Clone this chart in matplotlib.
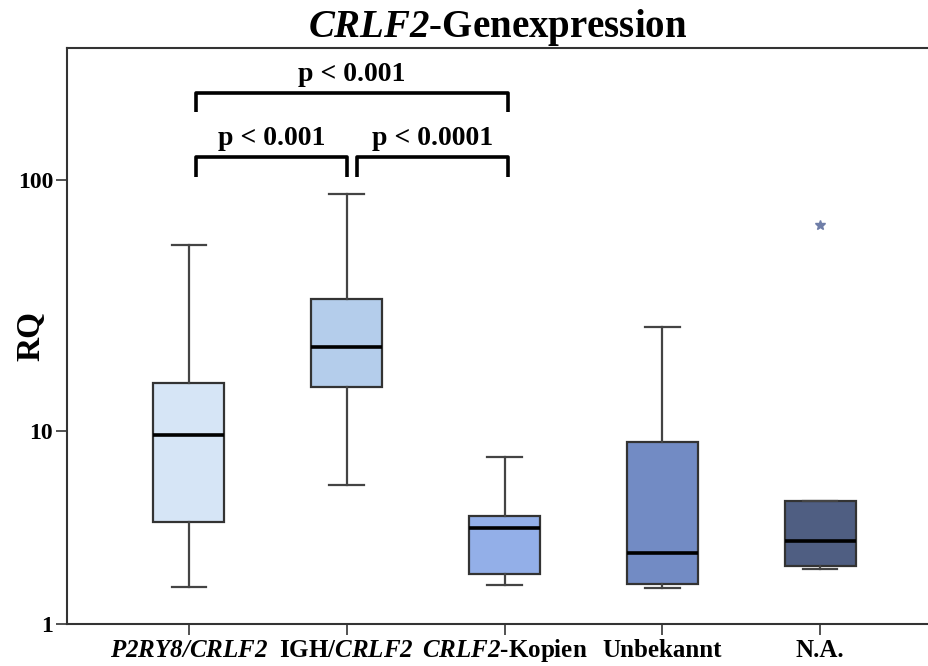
import numpy as np
import matplotlib
matplotlib.use("Agg")
import matplotlib.pyplot as plt
from matplotlib.ticker import NullLocator, FixedFormatter

plt.rcParams["font.family"] = ["Liberation Serif", "DejaVu Serif"]
plt.rcParams["font.weight"] = "bold"
plt.rcParams["mathtext.fontset"] = "custom"
# math parts are only used for the italic gene names
plt.rcParams["mathtext.rm"] = "Liberation Serif:italic:bold"
plt.rcParams["mathtext.it"] = "Liberation Serif:italic:bold"
plt.rcParams["mathtext.bf"] = "Liberation Serif:italic:bold"

# group labels
groups = [r"$\mathrm{P2RY8/CRLF2}$", r"IGH/$\mathrm{CRLF2}$",
          r"$\mathrm{CRLF2}$-Kopien", "Unbekannt", "N.A."]

# box statistics
whislo = [1.78, 5.85, 1.83, 1.76, 2.25]
q1 = [3.93, 15.3, 2.11, 1.84, 2.34]
med = [9.66, 22.2, 3.68, 2.76, 3.17]
q3 = [15.9, 34.5, 4.2, 9.02, 4.94]
whishi = [55.8, 88.2, 7.77, 26.5, 4.94]
fliers = [[], [], [], [], [66.8]]

colors = ["#d6e5f6", "#b4cdeb", "#93afe8", "#728bc4", "#4f5e82"]

# significance brackets: (x left, x right, y bottom, y top, label)
brackets = [
    (0.045, 1.0, 102.8, 122.6, "p < 0.001"),
    (1.065, 2.02, 102.8, 122.6, "p < 0.0001"),
    (0.045, 2.02, 183.0, 216.8, "p < 0.001"),
]


def fwd(y):
    return np.log10(np.asarray(y, dtype=float) + 1)


def inv(t):
    return 10 ** np.asarray(t, dtype=float) - 1


fig = plt.figure(figsize=(9.29, 6.66), dpi=100)
ax = fig.add_axes([67 / 929, 1 - 624 / 666, 1 - 67 / 929, (624 - 48) / 666])

stats = []
for i in range(len(groups)):
    stats.append({
        "whislo": whislo[i], "q1": q1[i], "med": med[i],
        "q3": q3[i], "whishi": whishi[i], "fliers": fliers[i],
    })

positions = np.arange(len(groups))
bp = ax.bxp(
    stats, positions=positions, widths=0.45, capwidths=0.22,
    patch_artist=True, showfliers=True,
    boxprops=dict(edgecolor="#333333", linewidth=1.6),
    whiskerprops=dict(color="#444444", linewidth=1.6),
    capprops=dict(color="#444444", linewidth=1.6),
    medianprops=dict(color="black", linewidth=2.6),
    flierprops=dict(marker="*", markersize=7, markerfacecolor="#6f7ea8",
                    markeredgecolor="#6f7ea8"),
)
for patch, c in zip(bp["boxes"], colors):
    patch.set_facecolor(c)

ax.set_yscale("function", functions=(fwd, inv))
ax.set_ylim(1, 324)
ax.set_xlim(-0.773, 4.69)
ax.set_yticks([1, 10, 100])
ax.yaxis.set_major_formatter(FixedFormatter(["1", "10", "100"]))
ax.yaxis.set_minor_locator(NullLocator())
ax.set_xticks(positions)
ax.set_xticklabels(groups, fontsize=18, fontweight="bold")
for lab in ax.get_xticklabels():
    # keep all labels on one baseline, mixed italic text shifts otherwise
    lab.set_verticalalignment("baseline")
for lab in ax.get_yticklabels():
    lab.set_fontsize(17)
    lab.set_fontweight("bold")

ax.tick_params(axis="both", direction="out", length=8, width=1.3,
               color="#444444", pad=2)
ax.tick_params(axis="x", pad=15.5)
for side in ["left", "bottom", "top"]:
    ax.spines[side].set_linewidth(1.5)
    ax.spines[side].set_color("#333333")
ax.spines["right"].set_visible(False)

ax.set_ylabel("RQ", fontsize=24, fontweight="bold")
ax.yaxis.set_label_coords(-0.024, 0.5)
ax.set_title(r"$\mathrm{CRLF2}$-Genexpression", fontsize=28,
             fontweight="bold", pad=0)

for xl, xr, yb, yt, label in brackets:
    ax.plot([xl, xl, xr, xr], [yb, yt, yt, yb], color="black",
            linewidth=2.6, solid_joinstyle="round", solid_capstyle="butt")
    ax.text((xl + xr) / 2, yt * 1.06, label, ha="center", va="bottom",
            fontsize=20, fontweight="bold")

fig.savefig("out.png", dpi=100)
